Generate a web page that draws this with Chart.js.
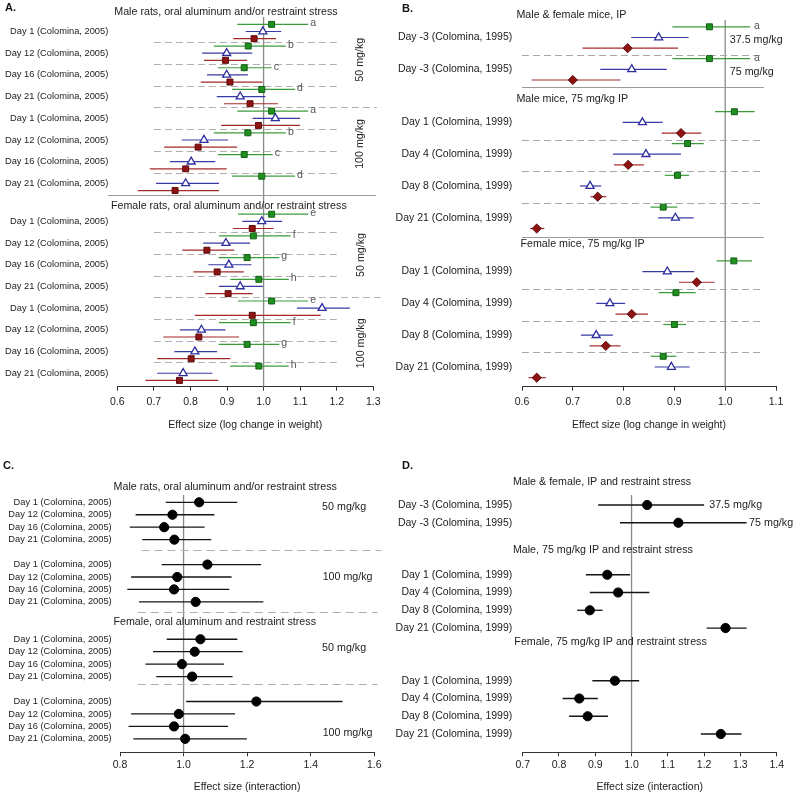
<!DOCTYPE html>
<html>
<head>
<meta charset="utf-8">
<script src="https://cdn.jsdelivr.net/npm/chart.js@4.4.0/dist/chart.umd.min.js"></script>
<style>
  html, body { margin: 0; padding: 0; background: #fff; }
  #page { position: relative; width: 800px; height: 798px; overflow: hidden; font-family: "Liberation Sans", Arial, sans-serif; }
  canvas { position: absolute; }
  .tag { position: absolute; font-weight: bold; font-size: 11px; line-height: 13px; color: #111; }
</style>
</head>
<body>
<div id="page">
  <canvas id="chartA" width="400" height="440" style="left:0;top:0"></canvas>
  <canvas id="chartB" width="420" height="440" style="left:380px;top:0"></canvas>
  <canvas id="chartC" width="400" height="358" style="left:0;top:440px"></canvas>
  <canvas id="chartD" width="420" height="358" style="left:380px;top:440px"></canvas>
  <div class="tag" style="left:5px;top:1px">A.</div>
  <div class="tag" style="left:402px;top:2px">B.</div>
  <div class="tag" style="left:3px;top:459px">C.</div>
  <div class="tag" style="left:402px;top:459px">D.</div>
</div>
<script>
const FONT = '"Liberation Sans", Arial, sans-serif';

// ---------- Panel A: rats, oral aluminum and/or restraint stress ----------
const days2005 = ['Day 1 (Colomina, 2005)', 'Day 12 (Colomina, 2005)', 'Day 16 (Colomina, 2005)', 'Day 21 (Colomina, 2005)'];
const labelsA = [...days2005, ...days2005, ...days2005, ...days2005];
const rowsA = [0, 1, 2, 3, 4, 5, 6, 7, 8.75, 9.75, 10.75, 11.75, 12.75, 13.75, 14.75, 15.75];
const lettersA = ['a', 'b', 'c', 'd', 'a', 'b', 'c', 'd', 'e', 'f', 'g', 'h', 'e', 'f', 'g', 'h'];

const greenA   = [1.022, 0.958, 0.947, 0.995, 1.022, 0.957, 0.947, 0.995, 1.022, 0.972, 0.955, 0.987, 1.022, 0.972, 0.955, 0.987];
const greenLoA = [0.928, 0.864, 0.875, 0.914, 0.928, 0.864, 0.875, 0.914, 0.930, 0.878, 0.877, 0.909, 0.930, 0.878, 0.877, 0.909];
const greenHiA = [1.122, 1.061, 1.022, 1.086, 1.122, 1.061, 1.025, 1.086, 1.122, 1.074, 1.043, 1.069, 1.122, 1.074, 1.043, 1.069];

const blueA   = [0.998, 0.899, 0.899, 0.936, 1.032, 0.837, 0.802, 0.787, 0.995, 0.897, 0.905, 0.936, 1.160, 0.830, 0.812, 0.780];
const blueLoA = [0.951, 0.832, 0.845, 0.872, 0.970, 0.776, 0.744, 0.706, 0.942, 0.835, 0.849, 0.878, 1.091, 0.771, 0.756, 0.709];
const blueHiA = [1.048, 0.969, 0.957, 1.005, 1.100, 0.903, 0.868, 0.878, 1.051, 0.963, 0.967, 0.998, 1.236, 0.896, 0.873, 0.860];

const redA   = [0.974, 0.896, 0.908, 0.963, 0.986, 0.821, 0.787, 0.758, 0.969, 0.845, 0.873, 0.903, 0.969, 0.823, 0.802, 0.770];
const redLoA = [0.917, 0.837, 0.828, 0.892, 0.884, 0.728, 0.689, 0.656, 0.916, 0.778, 0.808, 0.841, 0.812, 0.726, 0.709, 0.677];
const redHiA = [1.034, 0.955, 0.997, 1.039, 1.100, 0.928, 0.899, 0.878, 1.027, 0.920, 0.946, 0.970, 1.156, 0.933, 0.909, 0.876];

// ---------- Panel B: mice, IP ----------
const labelsB = ['Day -3 (Colomina, 1995)', 'Day -3 (Colomina, 1995)',
  'Day 1 (Colomina, 1999)', 'Day 4 (Colomina, 1999)', 'Day 8 (Colomina, 1999)', 'Day 21 (Colomina, 1999)',
  'Day 1 (Colomina, 1999)', 'Day 4 (Colomina, 1999)', 'Day 8 (Colomina, 1999)', 'Day 21 (Colomina, 1999)'];
const rowsB = [0, 1, 2.67, 3.67, 4.67, 5.67, 7.36, 8.36, 9.36, 10.36];
const lettersB = ['a', 'a', '', '', '', '', '', '', '', ''];

const greenB   = [0.969, 0.969, 1.018, 0.926, 0.906, 0.878, 1.017, 0.903, 0.900, 0.878];
const greenLoB = [0.896, 0.896, 0.980, 0.895, 0.881, 0.853, 0.983, 0.869, 0.878, 0.853];
const greenHiB = [1.049, 1.049, 1.058, 0.958, 0.929, 0.906, 1.053, 0.942, 0.923, 0.904];

const blueB   = [0.869, 0.816, 0.837, 0.844, 0.734, 0.902, 0.886, 0.773, 0.746, 0.894];
const blueLoB = [0.815, 0.754, 0.798, 0.779, 0.714, 0.868, 0.837, 0.746, 0.716, 0.861];
const blueHiB = [0.928, 0.885, 0.877, 0.913, 0.756, 0.938, 0.939, 0.803, 0.779, 0.930];

const redB   = [0.808, 0.700, 0.913, 0.809, 0.749, 0.629, 0.944, 0.816, 0.765, 0.629];
const redLoB = [0.719, 0.619, 0.875, 0.781, 0.735, 0.616, 0.909, 0.784, 0.733, 0.613];
const redHiB = [0.907, 0.794, 0.953, 0.840, 0.766, 0.644, 0.979, 0.848, 0.794, 0.647];

// ---------- Panel C: rats, interaction ----------
const labelsC = [...days2005, ...days2005, ...days2005, ...days2005];
const rowsC = [0, 1, 2, 3, 5, 6, 7, 8, 11, 12, 13, 14, 16, 17, 18, 19];
const effC = [1.049, 0.965, 0.939, 0.971, 1.075, 0.980, 0.970, 1.038, 1.053, 1.035, 0.995, 1.027, 1.229, 0.985, 0.970, 1.005];
const loC  = [0.944, 0.849, 0.831, 0.870, 0.931, 0.835, 0.823, 0.860, 0.947, 0.904, 0.880, 0.914, 1.008, 0.835, 0.827, 0.842];
const hiC  = [1.169, 1.097, 1.066, 1.087, 1.244, 1.151, 1.144, 1.251, 1.169, 1.186, 1.127, 1.154, 1.500, 1.162, 1.140, 1.199];

// ---------- Panel D: mice, interaction ----------
const labelsD = labelsB.slice();
const rowsD = [0, 1, 3.93, 4.93, 5.93, 6.93, 9.9, 10.9, 11.9, 12.9];
const effD = [1.043, 1.129, 0.933, 0.963, 0.885, 1.259, 0.954, 0.856, 0.879, 1.246];
const loD  = [0.908, 0.968, 0.874, 0.885, 0.850, 1.207, 0.892, 0.810, 0.828, 1.191];
const hiD  = [1.200, 1.317, 0.996, 1.049, 0.920, 1.317, 1.021, 0.907, 0.935, 1.303];

const GREEN = '#1f8f1f', GREEN_LINE = '#3c9c3c';
const BLUE = '#2d2d9c', BLUE_LINE = '#3a3aa6';
const RED = '#8e1414', RED_LINE = '#a42a2a';

// error bars, reference line, separators and annotations
const forestPlugin = {
  id: 'forest',
  beforeDatasetsDraw(chart, args, opts) {
    const {ctx, chartArea, scales: {x, y}} = chart;
    ctx.save();
    const rx = x.getPixelForValue(opts.ref);
    ctx.strokeStyle = '#8a8a8a';
    ctx.lineWidth = 1.3;
    ctx.beginPath();
    ctx.moveTo(rx, chartArea.top);
    ctx.lineTo(rx, chartArea.bottom);
    ctx.stroke();

    (opts.rules || []).forEach(r => {
      ctx.strokeStyle = r.color || '#b0b0b0';
      ctx.lineWidth = 1;
      ctx.setLineDash(r.dash || []);
      const py = Math.round(y.getPixelForValue(r.y)) + 0.5;
      ctx.beginPath();
      ctx.moveTo(x.getPixelForValue(r.from), py);
      ctx.lineTo(x.getPixelForValue(r.to), py);
      ctx.stroke();
    });
    ctx.setLineDash([]);

    chart.data.datasets.forEach((ds, i) => {
      const meta = chart.getDatasetMeta(i);
      ctx.strokeStyle = ds.ciColor;
      ctx.lineWidth = ds.ciWidth || 1.2;
      meta.data.forEach((pt, j) => {
        const x1 = x.getPixelForValue(ds.hi[j]);
        ctx.beginPath();
        ctx.moveTo(x.getPixelForValue(ds.lo[j]), pt.y);
        ctx.lineTo(x1, pt.y);
        ctx.stroke();
        if (ds.tags && ds.tags[j]) {
          ctx.fillStyle = '#555';
          ctx.font = '10.5px ' + FONT;
          ctx.textAlign = 'left';
          ctx.textBaseline = 'middle';
          ctx.fillText(ds.tags[j], x1 + (ds.tagGap || 2), pt.y - 1);
        }
      });
    });
    ctx.restore();
  },
  afterDraw(chart, args, opts) {
    const {ctx, scales: {x, y}} = chart;
    ctx.save();
    ctx.fillStyle = '#222';
    ctx.textBaseline = 'middle';
    (opts.texts || []).forEach(t => {
      ctx.font = (t.size || 10.7) + 'px ' + FONT;
      ctx.textAlign = t.align || 'center';
      const px = x.getPixelForValue(t.x), py = y.getPixelForValue(t.y);
      if (t.rot) {
        ctx.save();
        ctx.translate(px, py);
        ctx.rotate(-Math.PI / 2);
        ctx.textAlign = 'center';
        ctx.fillText(t.text, 0, 0);
        ctx.restore();
      } else {
        ctx.fillText(t.text, px, py);
      }
    });
    ctx.restore();
  }
};
Chart.register(forestPlugin);

function forestChart(id, cfg) {
  return new Chart(document.getElementById(id), {
    type: 'scatter',
    data: { datasets: cfg.datasets },
    options: {
      responsive: false,
      animation: false,
      layout: { padding: { top: cfg.padTop, right: cfg.padRight, left: 0, bottom: 0 } },
      plugins: {
        legend: { display: false },
        tooltip: { enabled: false },
        forest: { ref: 1, rules: cfg.rules, texts: cfg.texts }
      },
      scales: {
        x: {
          type: 'linear', min: cfg.xMin, max: cfg.xMax,
          afterFit: s => { s.height = cfg.xHeight; },
          grid: { drawOnChartArea: false, drawTicks: true, tickLength: 4, color: '#333' },
          border: { display: true, color: '#333', width: 1 },
          ticks: { stepSize: cfg.xStep, padding: cfg.tickPad, color: '#222',
            font: { family: FONT, size: 10.5 }, callback: v => v.toFixed(1) },
          title: { display: true, text: cfg.xTitle, color: '#222',
            font: { family: FONT, size: 10.5 }, padding: { top: 0, bottom: cfg.titlePad } }
        },
        y: {
          type: 'linear', reverse: true, min: cfg.yMin, max: cfg.yMax,
          afterFit: s => { s.width = cfg.yWidth; },
          afterBuildTicks: s => { s.ticks = cfg.rows.map(v => ({ value: v })); },
          grid: { display: false, drawTicks: false },
          border: { display: false },
          ticks: { autoSkip: false, padding: cfg.labelPad, color: '#222',
            font: { family: FONT, size: cfg.labelSize }, callback: (v, i) => cfg.labels[i] }
        }
      }
    }
  });
}

const pts = (vals, rows, off) => vals.map((v, i) => ({ x: v, y: rows[i] + off }));

// ---- A ----
const offA = 0.33;
forestChart('chartA', {
  datasets: [
    { data: pts(greenA, rowsA, -offA), lo: greenLoA, hi: greenHiA, tags: lettersA, tagGap: 2, ciColor: GREEN_LINE,
      pointStyle: 'rect', pointRadius: 4.2, backgroundColor: GREEN, borderColor: '#136013', borderWidth: 1 },
    { data: pts(blueA, rowsA, 0), lo: blueLoA, hi: blueHiA, ciColor: BLUE_LINE,
      pointStyle: 'triangle', pointRadius: 4.6, backgroundColor: '#fff', borderColor: BLUE, borderWidth: 1.3 },
    { data: pts(redA, rowsA, offA), lo: redLoA, hi: redHiA, ciColor: RED_LINE,
      pointStyle: 'rect', pointRadius: 4.2, backgroundColor: RED, borderColor: '#5c0a0a', borderWidth: 1 }
  ],
  rows: rowsA, labels: labelsA, labelSize: 9.3, labelPad: 9,
  xMin: 0.6, xMax: 1.3, xStep: 0.1, xTitle: 'Effect size (log change in weight)',
  yMin: -0.668, yMax: 16.37, padTop: 17, padRight: 26.7, yWidth: 117.3,
  xHeight: 53.3, tickPad: 5, titlePad: 8.7,
  rules: [
    ...[0.5, 1.5, 2.5, 4.5, 5.5, 6.5, 9.25, 10.25, 11.25, 13.25, 14.25, 15.25].map(r => ({ y: r, from: 0.7, to: 1.2, dash: [7, 4] })),
    { y: 3.5, from: 0.7, to: 1.31, dash: [7, 4] },
    { y: 12.25, from: 0.7, to: 1.32, dash: [7, 4] },
    { y: 7.53, from: 0.575, to: 1.307, color: '#9a9a9a' }
  ],
  texts: [
    { text: 'Male rats, oral aluminum and/or restraint stress', x: 0.897, y: -0.91 },
    { text: 'Female rats, oral aluminum and/or restraint stress', x: 0.905, y: 8.04 },
    { text: '50 mg/kg', x: 1.264, y: 1.3, rot: true },
    { text: '100 mg/kg', x: 1.264, y: 5.18, rot: true },
    { text: '50 mg/kg', x: 1.266, y: 10.3, rot: true },
    { text: '100 mg/kg', x: 1.266, y: 14.37, rot: true }
  ]
});

// ---- B ----
const offB = 0.336;
forestChart('chartB', {
  datasets: [
    { data: pts(greenB, rowsB, -offB), lo: greenLoB, hi: greenHiB, tags: lettersB, tagGap: 4, ciColor: GREEN_LINE,
      pointStyle: 'rect', pointRadius: 4.2, backgroundColor: GREEN, borderColor: '#136013', borderWidth: 1 },
    { data: pts(blueB, rowsB, 0), lo: blueLoB, hi: blueHiB, ciColor: BLUE_LINE,
      pointStyle: 'triangle', pointRadius: 4.6, backgroundColor: '#fff', borderColor: BLUE, borderWidth: 1.3 },
    { data: pts(redB, rowsB, offB), lo: redLoB, hi: redHiB, ciColor: RED_LINE,
      pointStyle: 'rectRot', pointRadius: 4.6, backgroundColor: RED, borderColor: '#5c0a0a', borderWidth: 1 }
  ],
  rows: rowsB, labels: labelsB, labelSize: 10.5, labelPad: 9.7,
  xMin: 0.6, xMax: 1.1, xStep: 0.1, xTitle: 'Effect size (log change in weight)',
  yMin: -0.55, yMax: 10.98, padTop: 20, padRight: 24, yWidth: 142,
  xHeight: 53.3, tickPad: 5, titlePad: 8.7,
  rules: [
    ...[0.54, 3.21, 4.21, 5.21, 7.9, 8.9, 9.9].map(r => ({ y: r, from: 0.6, to: 1.076, dash: [7, 4], color: '#a8a8a8' })),
    { y: 1.55, from: 0.6, to: 1.076, color: '#9a9a9a' },
    { y: 6.26, from: 0.6, to: 1.076, color: '#9a9a9a' }
  ],
  texts: [
    { text: 'Male & female mice, IP', x: 0.589, y: -0.71, align: 'left' },
    { text: 'Male mice, 75 mg/kg IP', x: 0.589, y: 1.93, align: 'left' },
    { text: 'Female mice, 75 mg/kg IP', x: 0.597, y: 6.5, align: 'left' },
    { text: '37.5 mg/kg', x: 1.009, y: 0.08, align: 'left' },
    { text: '75 mg/kg', x: 1.009, y: 1.08, align: 'left' }
  ]
});

// ---- C ----
forestChart('chartC', {
  datasets: [
    { data: pts(effC, rowsC, 0), lo: loC, hi: hiC, ciColor: '#151515', ciWidth: 1.3,
      pointStyle: 'circle', pointRadius: 4.6, backgroundColor: '#000', borderColor: '#000', borderWidth: 1 }
  ],
  rows: rowsC, labels: labelsC, labelSize: 9.3, labelPad: 8.3,
  xMin: 0.8, xMax: 1.6, xStep: 0.2, xTitle: 'Effect size (interaction)',
  yMin: -0.586, yMax: 20.08, padTop: 55, padRight: 25.7, yWidth: 120,
  xHeight: 45.7, tickPad: 2.4, titlePad: 4.4,
  rules: [
    { y: 3.83, from: 0.868, to: 1.623, dash: [8, 5], color: '#b0b0b0' },
    { y: 8.79, from: 0.856, to: 1.611, dash: [8, 5], color: '#b0b0b0' },
    { y: 14.6, from: 0.856, to: 1.611, dash: [8, 5], color: '#b0b0b0' }
  ],
  texts: [
    { text: 'Male rats, oral aluminum and/or restraint stress', x: 1.131, y: -1.25 },
    { text: 'Female, oral aluminum and restraint stress', x: 1.098, y: 9.59 },
    { text: '50 mg/kg', x: 1.505, y: 0.35 },
    { text: '100 mg/kg', x: 1.516, y: 6.02 },
    { text: '50 mg/kg', x: 1.505, y: 11.68 },
    { text: '100 mg/kg', x: 1.516, y: 18.55 }
  ]
});

// ---- D ----
forestChart('chartD', {
  datasets: [
    { data: pts(effD, rowsD, 0), lo: loD, hi: hiD, ciColor: '#151515', ciWidth: 1.3,
      pointStyle: 'circle', pointRadius: 4.6, backgroundColor: '#000', borderColor: '#000', borderWidth: 1 }
  ],
  rows: rowsD, labels: labelsD, labelSize: 10.5, labelPad: 10.4,
  xMin: 0.7, xMax: 1.4, xStep: 0.1, xTitle: 'Effect size (interaction)',
  yMin: -0.563, yMax: 13.93, padTop: 55, padRight: 23.3, yWidth: 142.7,
  xHeight: 45.7, tickPad: 2.4, titlePad: 4.4,
  rules: [],
  texts: [
    { text: 'Male & female, IP and restraint stress', x: 0.673, y: -1.28, align: 'left' },
    { text: 'Male, 75 mg/kg IP and restraint stress', x: 0.673, y: 2.54, align: 'left' },
    { text: 'Female, 75 mg/kg IP and restraint stress', x: 0.677, y: 7.74, align: 'left' },
    { text: '37.5 mg/kg', x: 1.214, y: 0, align: 'left' },
    { text: '75 mg/kg', x: 1.324, y: 1, align: 'left' }
  ]
});
</script>
</body>
</html>
